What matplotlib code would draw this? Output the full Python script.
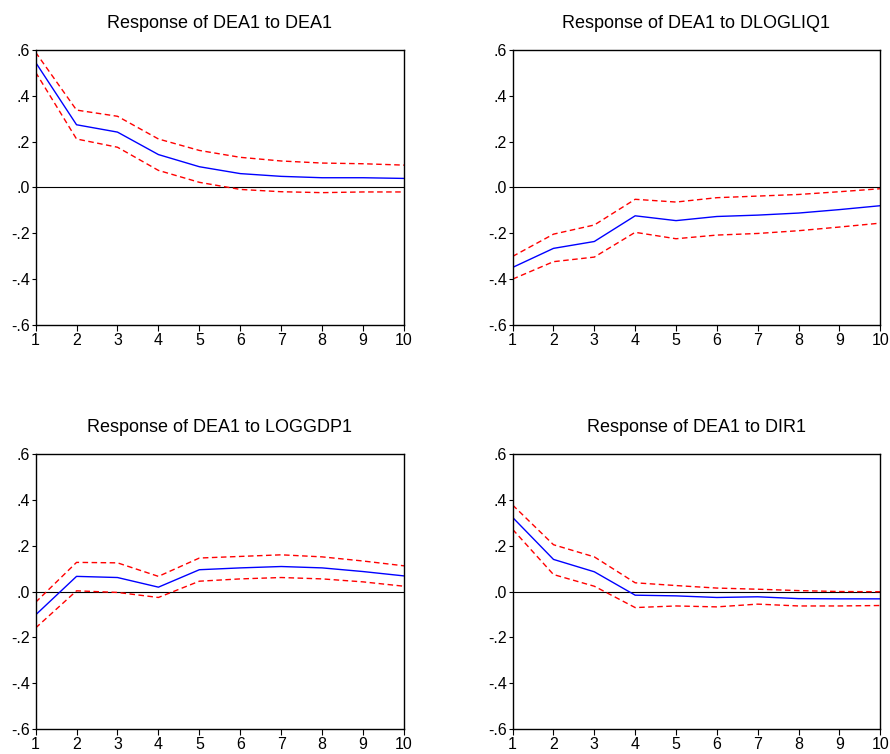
import matplotlib
matplotlib.use("Agg")
import matplotlib.pyplot as plt
from matplotlib.ticker import FuncFormatter

plt.rcParams['font.family'] = ['Liberation Sans', 'DejaVu Sans']

periods = [1, 2, 3, 4, 5, 6, 7, 8, 9, 10]
titles = ["Response of DEA1 to DEA1", "Response of DEA1 to DLOGLIQ1",
          "Response of DEA1 to LOGGDP1", "Response of DEA1 to DIR1"]

# impulse responses (blue) and +/- 2 s.e. bands (red dashed)
resp_dea1 = [0.545, 0.273, 0.241, 0.143, 0.090, 0.060, 0.048, 0.042, 0.042, 0.039]
up_dea1 = [0.589, 0.337, 0.310, 0.211, 0.161, 0.131, 0.115, 0.106, 0.103, 0.097]
lo_dea1 = [0.502, 0.211, 0.175, 0.074, 0.022, -0.009, -0.019, -0.023, -0.020, -0.020]

resp_liq = [-0.349, -0.266, -0.236, -0.124, -0.145, -0.127, -0.121, -0.112, -0.097, -0.080]
up_liq = [-0.301, -0.204, -0.164, -0.052, -0.064, -0.045, -0.038, -0.031, -0.019, -0.006]
lo_liq = [-0.400, -0.324, -0.304, -0.196, -0.224, -0.208, -0.201, -0.189, -0.173, -0.156]

resp_gdp = [-0.102, 0.066, 0.061, 0.019, 0.095, 0.103, 0.109, 0.103, 0.087, 0.068]
up_gdp = [-0.047, 0.127, 0.125, 0.066, 0.146, 0.153, 0.160, 0.151, 0.133, 0.112]
lo_gdp = [-0.159, 0.003, -0.004, -0.026, 0.045, 0.055, 0.061, 0.055, 0.042, 0.023]

resp_dir = [0.323, 0.140, 0.086, -0.016, -0.019, -0.026, -0.023, -0.031, -0.032, -0.032]
up_dir = [0.377, 0.204, 0.151, 0.038, 0.026, 0.015, 0.010, 0.004, 0.000, -0.001]
lo_dir = [0.271, 0.074, 0.023, -0.070, -0.063, -0.067, -0.055, -0.063, -0.063, -0.061]

resp = [resp_dea1, resp_liq, resp_gdp, resp_dir]
upper = [up_dea1, up_liq, up_gdp, up_dir]
lower = [lo_dea1, lo_liq, lo_gdp, lo_dir]

yticks = [-0.6, -0.4, -0.2, 0.0, 0.2, 0.4, 0.6]


def fmt(v, pos):
    s = "%.1f" % v
    return s.replace("0.", ".")


fig = plt.figure(figsize=(8.9, 7.54), dpi=100)
boxes = [[0.040, 0.569, 0.414, 0.365], [0.576, 0.569, 0.413, 0.365],
         [0.040, 0.033, 0.414, 0.365], [0.576, 0.033, 0.413, 0.365]]

for i in range(4):
    ax = fig.add_axes(boxes[i])
    ax.axhline(0, color='black', lw=0.8)
    ax.plot(periods, upper[i], color='red', lw=1, ls=(0, (4, 2.5)))
    ax.plot(periods, lower[i], color='red', lw=1, ls=(0, (4, 2.5)))
    ax.plot(periods, resp[i], color='blue', lw=1)
    ax.set_xlim(1, 10)
    ax.set_ylim(-0.6, 0.6)
    ax.set_xticks(periods)
    ax.set_yticks(yticks)
    ax.yaxis.set_major_formatter(FuncFormatter(fmt))
    ax.tick_params(labelsize=11.5, width=0.8)
    ax.tick_params(axis='x', length=4, pad=2)
    ax.tick_params(axis='y', length=3, pad=1)
    for sp in ax.spines.values():
        sp.set_linewidth(1)
    ax.set_title(titles[i], fontsize=13, pad=16)

plt.savefig("out.png", dpi=100)
